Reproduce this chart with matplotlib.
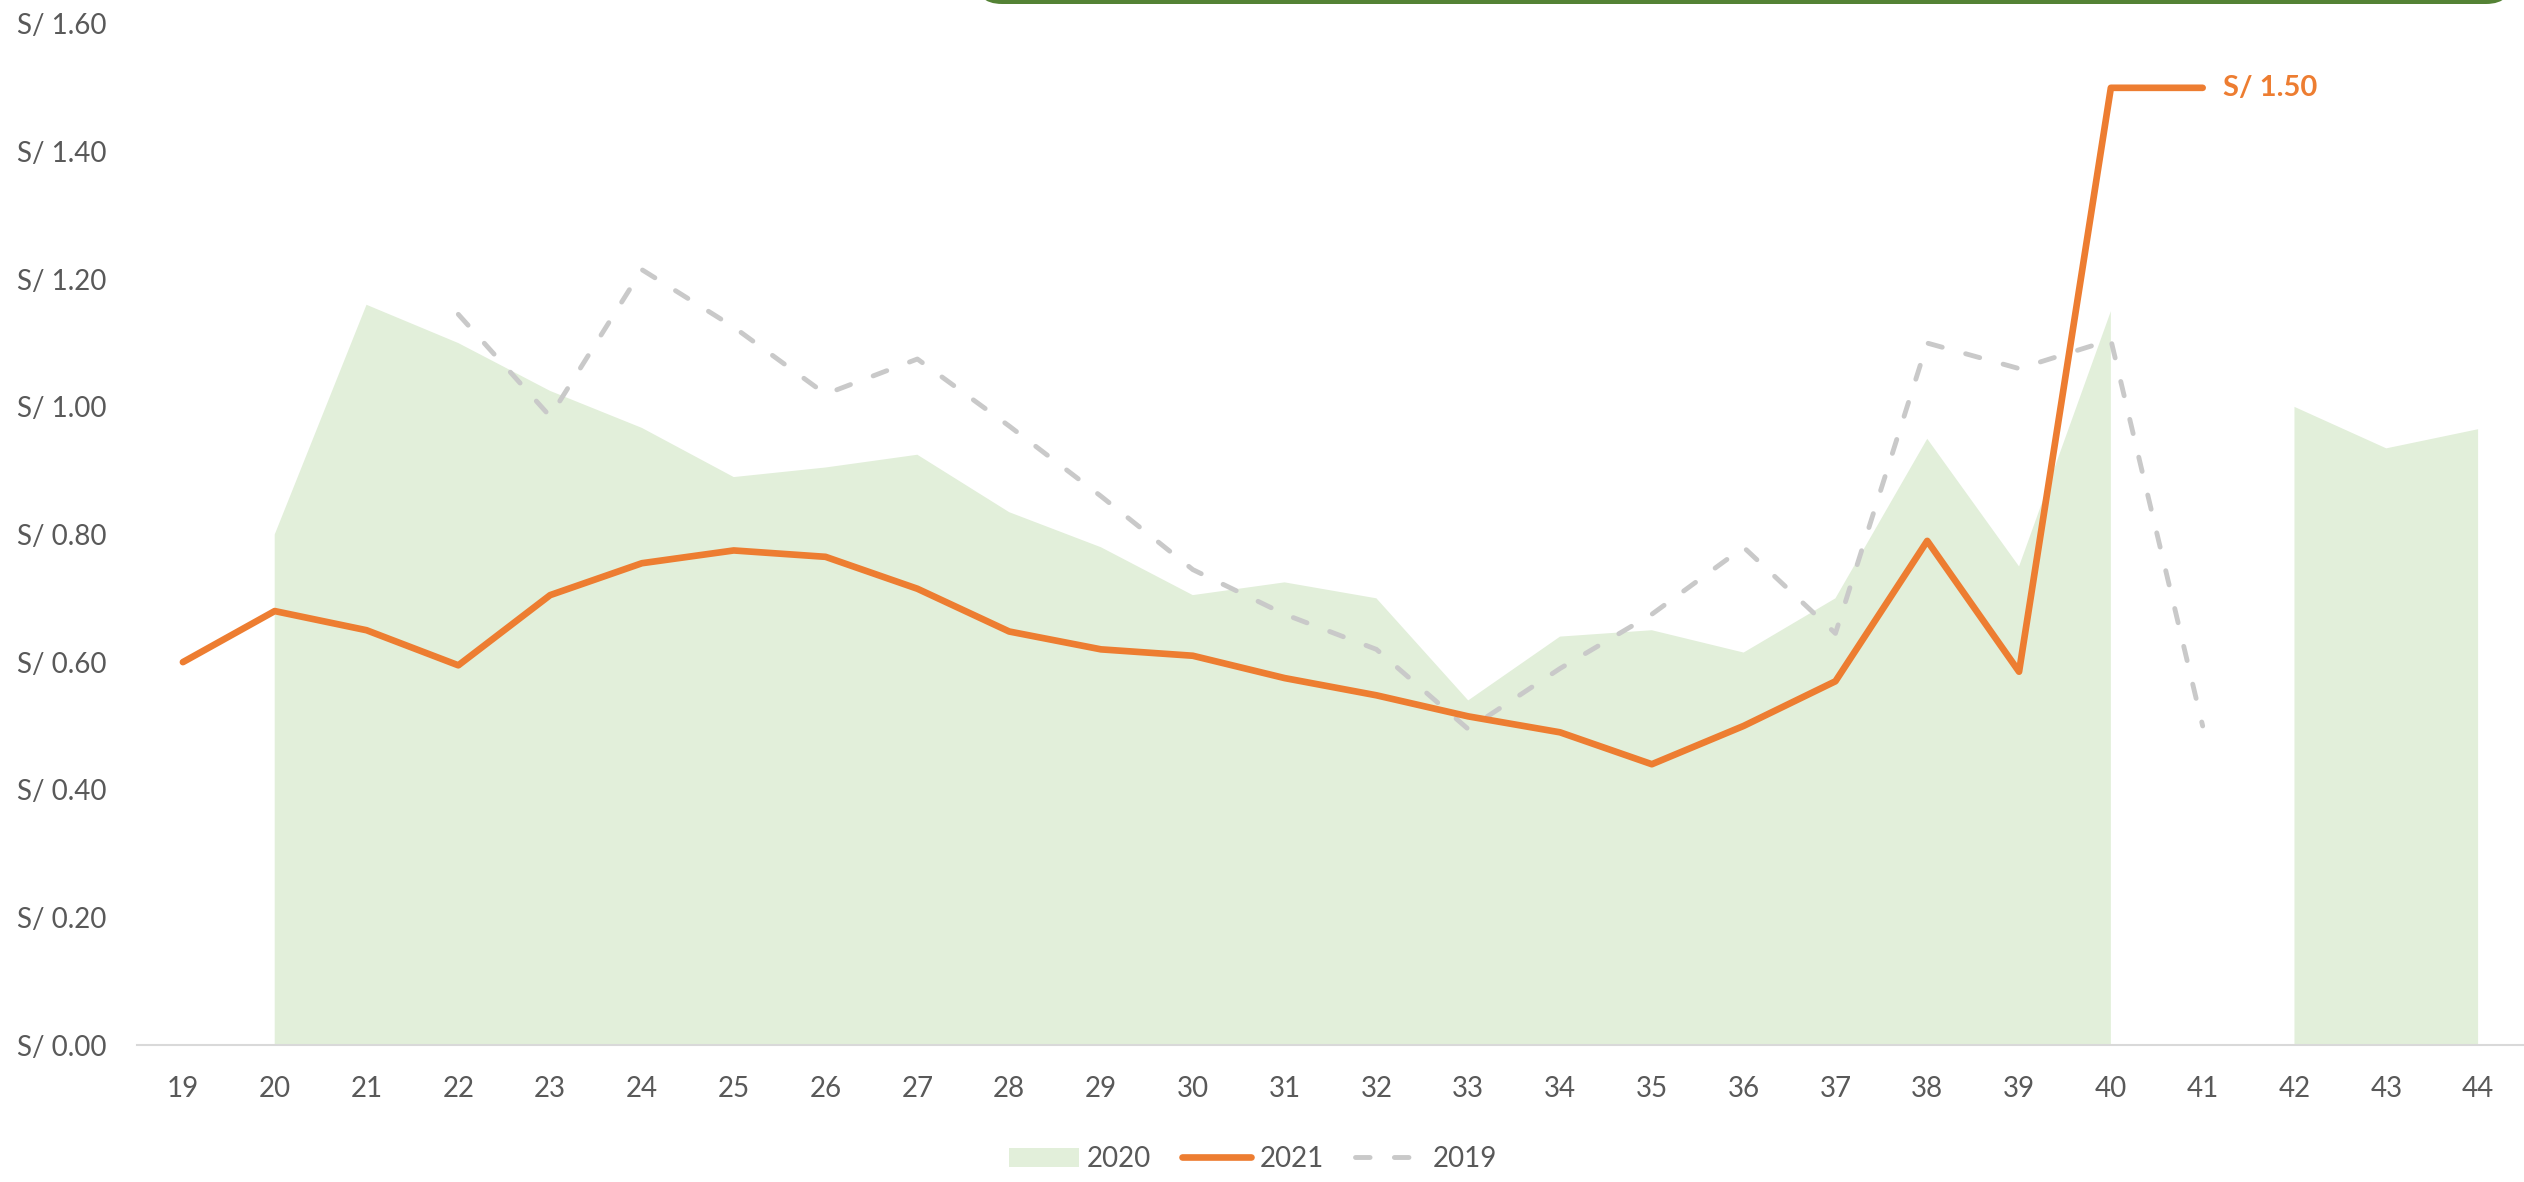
import numpy as np
import matplotlib
matplotlib.use("Agg")
import matplotlib.pyplot as plt
from matplotlib.patches import FancyBboxPatch
from matplotlib.transforms import IdentityTransform

plt.rcParams['font.family'] = ['Lato', 'DejaVu Sans']

# week numbers
weeks = list(range(19, 45))

# 2020 price (area), gap at week 41 and before week 20
y2020 = [np.nan, 0.80, 1.16, 1.10, 1.025, 0.967, 0.89, 0.905, 0.925, 0.835,
         0.78, 0.705, 0.725, 0.70, 0.54, 0.64, 0.65, 0.615, 0.70, 0.95,
         0.75, 1.15, np.nan, 1.00, 0.935, 0.965]

# 2021 price (orange line), up to week 41
y2021 = [0.60, 0.68, 0.65, 0.595, 0.705, 0.755, 0.775, 0.765, 0.715, 0.648,
         0.62, 0.61, 0.575, 0.548, 0.515, 0.49, 0.44, 0.50, 0.57, 0.79,
         0.585, 1.50, 1.50, np.nan, np.nan, np.nan]

# 2019 price (grey dashed), weeks 22 to 41
y2019 = [np.nan, np.nan, np.nan, 1.145, 0.985, 1.215, 1.125, 1.02, 1.075, 0.97,
         0.86, 0.745, 0.675, 0.62, 0.495, 0.59, 0.675, 0.78, 0.645, 1.10,
         1.06, 1.105, 0.50, np.nan, np.nan, np.nan]

yticks = [0.0, 0.2, 0.4, 0.6, 0.8, 1.0, 1.2, 1.4, 1.6]

W, H = 2524, 1182
fig = plt.figure(figsize=(W / 100, H / 100), dpi=100)
ax = fig.add_axes([137 / W, 1 - 1045 / H, 1 - 137 / W, (1045 - 24) / H])

x = np.array(weeks, dtype=float)
a20 = np.array(y2020, dtype=float)
fill = ax.fill_between(x, 0, a20, where=~np.isnan(a20), color='#E2EFDA',
                       linewidth=0, label='2020', zorder=1)
line21, = ax.plot(x, y2021, color='#ED7D31', lw=4.8, solid_capstyle='round',
                  solid_joinstyle='round', label='2021', zorder=3)
line19, = ax.plot(x, y2019, color='#C9C9C9', lw=3.5, linestyle=(0, (3, 5)),
                  dash_capstyle='round', label='2019', zorder=2)

# label for the last 2021 value
last = max(i for i, v in enumerate(y2021) if not np.isnan(v))
ax.annotate('S/ %.2f' % y2021[last], xy=(weeks[last], y2021[last]),
            xytext=(20, 0), textcoords='offset pixels', ha='left', va='center',
            color='#ED7D31', fontsize=21, fontweight='bold')

ax.set_xlim(18.5, 44.5)
ax.set_ylim(0, 1.6)
ax.set_xticks(weeks)
ax.set_xticklabels([str(w) for w in weeks])
ax.set_yticks(yticks)
ax.set_yticklabels(['S/ %.2f' % v for v in yticks])
ax.tick_params(axis='both', length=0, labelsize=20, labelcolor='#595959')
ax.tick_params(axis='y', pad=22)
ax.tick_params(axis='x', pad=22)

for s in ['top', 'right', 'left']:
    ax.spines[s].set_visible(False)
ax.spines['bottom'].set_color('#D9D9D9')
ax.spines['bottom'].set_linewidth(1.5)

ax.legend(handles=[fill, line21, line19], loc='center',
          bbox_to_anchor=(1253 / W, 1 - 1159 / H), bbox_transform=fig.transFigure,
          ncol=3, frameon=False, fontsize=20, labelcolor='#595959',
          handlelength=2.5, handletextpad=0.3, columnspacing=1.1)

# bottom edge of the green box that sits above the chart
box = FancyBboxPatch((975, H - 4), 2513 - 975, 100,
                     boxstyle='round,pad=0,rounding_size=27',
                     transform=IdentityTransform(), facecolor='#548235',
                     edgecolor='none', zorder=5)
fig.add_artist(box)

fig.savefig('out.png', dpi=100)
